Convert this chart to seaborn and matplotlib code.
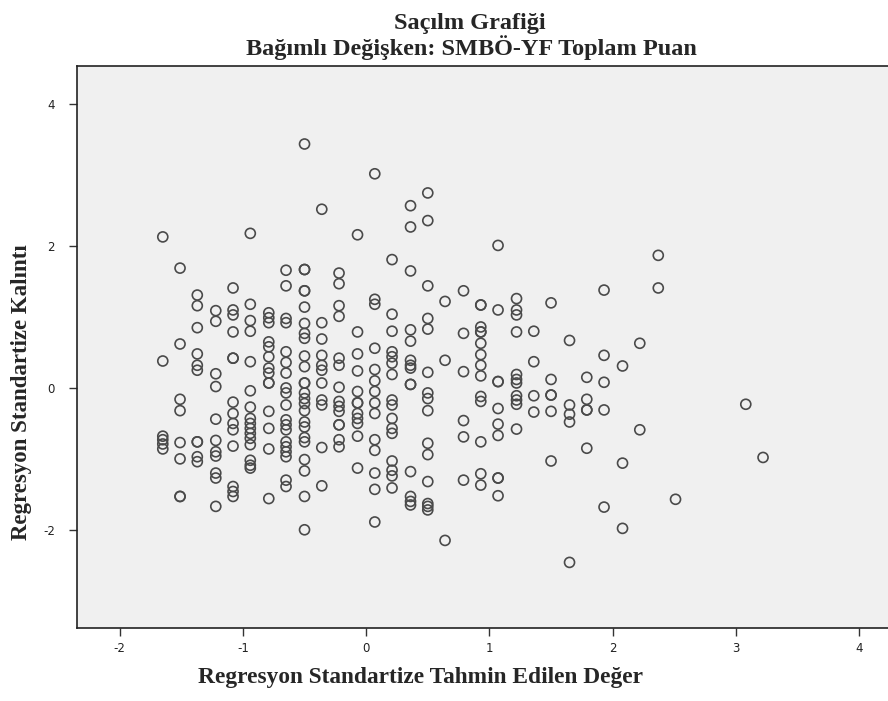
import numpy as np
import pandas as pd
import matplotlib
matplotlib.use('Agg')
import matplotlib.pyplot as plt
import seaborn as sns

# Standardized predicted values (x) and standardized residuals (y)
pred = [
    -1.65, -1.65, -1.65, -1.65, -1.65, -1.65,
    -1.51, -1.51, -1.51, -1.51, -1.51, -1.51, -1.51, -1.51,
    -1.37, -1.37, -1.37, -1.37, -1.37, -1.37, -1.37, -1.37, -1.37, -1.37,
    -1.22, -1.22, -1.22, -1.22, -1.22, -1.22, -1.22, -1.22, -1.22, -1.22, -1.22,
    -1.08, -1.08, -1.08, -1.08, -1.08, -1.08, -1.08, -1.08, -1.08, -1.08, -1.08, -1.08, -1.08, -1.08,
    -0.94, -0.94, -0.94, -0.94, -0.94, -0.94, -0.94, -0.94, -0.94, -0.94, -0.94, -0.94, -0.94, -0.94, -0.94, -0.94,
    -0.79, -0.79, -0.79, -0.79, -0.79, -0.79, -0.79, -0.79, -0.79, -0.79, -0.79, -0.79, -0.79, -0.79,
    -0.65, -0.65, -0.65, -0.65, -0.65, -0.65, -0.65, -0.65, -0.65, -0.65, -0.65, -0.65, -0.65, -0.65,
    -0.65, -0.65, -0.65, -0.65, -0.65,
    -0.50, -0.50, -0.50, -0.50, -0.50, -0.50, -0.50, -0.50, -0.50, -0.50, -0.50, -0.50, -0.50, -0.50,
    -0.50, -0.50, -0.50, -0.50, -0.50, -0.50, -0.50, -0.50, -0.50, -0.50, -0.50,
    -0.36, -0.36, -0.36, -0.36, -0.36, -0.36, -0.36, -0.36, -0.36, -0.36, -0.36,
    -0.22, -0.22, -0.22, -0.22, -0.22, -0.22, -0.22, -0.22, -0.22, -0.22, -0.22, -0.22, -0.22, -0.22,
    -0.07, -0.07, -0.07, -0.07, -0.07, -0.07, -0.07, -0.07, -0.07, -0.07, -0.07, -0.07,
    0.07, 0.07, 0.07, 0.07, 0.07, 0.07, 0.07, 0.07, 0.07, 0.07, 0.07, 0.07, 0.07, 0.07,
    0.21, 0.21, 0.21, 0.21, 0.21, 0.21, 0.21, 0.21, 0.21, 0.21, 0.21, 0.21, 0.21, 0.21, 0.21, 0.21,
    0.36, 0.36, 0.36, 0.36, 0.36, 0.36, 0.36, 0.36, 0.36, 0.36, 0.36, 0.36, 0.36, 0.36,
    0.50, 0.50, 0.50, 0.50, 0.50, 0.50, 0.50, 0.50, 0.50, 0.50, 0.50, 0.50, 0.50, 0.50, 0.50,
    0.64, 0.64, 0.64,
    0.79, 0.79, 0.79, 0.79, 0.79, 0.79,
    0.93, 0.93, 0.93, 0.93, 0.93, 0.93, 0.93, 0.93, 0.93, 0.93, 0.93, 0.93, 0.93, 0.93,
    1.07, 1.07, 1.07, 1.07, 1.07, 1.07, 1.07, 1.07, 1.07, 1.07,
    1.22, 1.22, 1.22, 1.22, 1.22, 1.22, 1.22, 1.22, 1.22, 1.22, 1.22,
    1.36, 1.36, 1.36, 1.36,
    1.50, 1.50, 1.50, 1.50, 1.50, 1.50,
    1.65, 1.65, 1.65, 1.65, 1.65,
    1.79, 1.79, 1.79, 1.79, 1.79,
    1.93, 1.93, 1.93, 1.93, 1.93,
    2.08, 2.08, 2.08,
    2.22, 2.22,
    2.37, 2.37,
    2.51,
    3.08,
    3.22,
]

resid = [
    2.13, 0.38, -0.68, -0.73, -0.79, -0.86,
    1.69, 0.62, -0.16, -0.32, -0.77, -1.00, -1.53, -1.53,
    1.31, 1.16, 0.85, 0.48, 0.32, 0.25, -0.76, -0.76, -0.97, -1.04,
    1.09, 0.94, 0.20, 0.02, -0.44, -0.74, -0.90, -0.96, -1.20, -1.27, -1.67,
    1.41, 1.10, 1.03, 0.79, 0.42, 0.42, -0.20, -0.36, -0.50, -0.59, -0.82, -1.39, -1.46, -1.53,
    2.18, 1.18, 0.95, 0.80, 0.37, -0.04, -0.27, -0.43, -0.50, -0.57, -0.64, -0.71, -0.80, -1.02, -1.09, -1.13,
    1.06, 0.99, 0.92, 0.65, 0.58, 0.44, 0.28, 0.21, 0.07, 0.07, -0.33, -0.57, -0.86, -1.56,
    1.66, 1.44, 0.98, 0.92, 0.51, 0.36, 0.21, 0.00, -0.07, -0.24, -0.45, -0.52, -0.59, -0.76,
    -0.83, -0.90, -0.97, -1.30, -1.39,
    3.44, 1.67, 1.67, 1.37, 1.37, 1.14, 0.91, 0.77, 0.70, 0.45, 0.30, 0.07, 0.07, -0.07,
    -0.15, -0.22, -0.32, -0.48, -0.55, -0.70, -0.76, -1.01, -1.17, -1.53, -2.00,
    2.52, 0.92, 0.69, 0.46, 0.32, 0.25, 0.07, -0.17, -0.24, -0.84, -1.38,
    1.62, 1.47, 1.16, 1.01, 0.42, 0.32, 0.01, -0.19, -0.26, -0.33, -0.52, -0.52, -0.73, -0.83,
    2.16, 0.79, 0.48, 0.24, -0.05, -0.21, -0.21, -0.36, -0.43, -0.50, -0.68, -1.13,
    3.02, 1.25, 1.18, 0.56, 0.26, 0.10, -0.05, -0.21, -0.36, -0.73, -0.88, -1.20, -1.43, -1.89,
    1.81, 1.04, 0.80, 0.51, 0.44, 0.35, 0.19, -0.17, -0.24, -0.43, -0.57, -0.64, -1.03, -1.16, -1.24, -1.41,
    2.57, 2.27, 1.65, 0.82, 0.66, 0.39, 0.32, 0.28, 0.05, 0.05, -1.18, -1.53, -1.60, -1.65,
    2.75, 2.36, 1.44, 0.98, 0.83, 0.22, -0.07, -0.15, -0.32, -0.78, -0.94, -1.32, -1.63, -1.67, -1.72,
    1.22, 0.39, -2.15,
    1.37, 0.77, 0.23, -0.46, -0.69, -1.30,
    1.17, 1.17, 0.86, 0.79, 0.79, 0.63, 0.47, 0.32, 0.17, -0.12, -0.19, -0.76, -1.21, -1.37,
    2.01, 1.10, 0.09, 0.09, -0.29, -0.51, -0.67, -1.27, -1.27, -1.52,
    1.26, 1.10, 1.03, 0.79, 0.19, 0.12, 0.07, -0.11, -0.17, -0.23, -0.58,
    0.80, 0.37, -0.11, -0.34,
    1.20, 0.12, -0.10, -0.10, -0.33, -1.03,
    0.67, -0.24, -0.37, -0.48, -2.46,
    0.15, -0.16, -0.31, -0.31, -0.85,
    1.38, 0.46, 0.08, -0.31, -1.68,
    0.31, -1.06, -1.98,
    0.63, -0.59,
    1.87, 1.41,
    -1.57,
    -0.23,
    -0.98,
]

x_ticks = [-2, -1, 0, 1, 2, 3, 4]
y_ticks = [-2, 0, 2, 4]

df = pd.DataFrame({'pred': pred, 'resid': resid})

sns.set_style('white')
plt.rcParams['axes.unicode_minus'] = False
serif = ['Liberation Serif', 'DejaVu Serif']

fig = plt.figure(figsize=(8.88, 7.01), dpi=100)
ax = fig.add_axes([77 / 888, 73 / 701, 813 / 888, 562 / 701])
ax.set_facecolor('#f0f0f0')

sns.scatterplot(data=df, x='pred', y='resid', ax=ax, marker='o', s=52,
                facecolor='none', edgecolor='#4a4a4a', linewidth=1.2)

ax.set_xlim(-2.346, 4.25)
ax.set_ylim(-3.385, 4.54)
ax.set_xticks(x_ticks)
ax.set_yticks(y_ticks)
ax.tick_params(direction='out', length=6, width=1, color='#333333',
               labelsize=8.5, labelcolor='#222222', bottom=True, left=True)
ax.tick_params(axis='x', pad=4)
ax.tick_params(axis='y', pad=10)
ax.set_xlabel('')
ax.set_ylabel('')

for sp in ax.spines.values():
    sp.set_color('#222222')
    sp.set_linewidth(1.2)

fig.text(420 / 888, 1 - 678 / 701, 'Regresyon Standartize Tahmin Edilen Değer',
         family=serif, fontsize=16.8, fontweight='bold', ha='center', va='center')
fig.text(22 / 888, 1 - 392 / 701, 'Regresyon Standartize Kalıntı', family=serif,
         fontsize=16.5, fontweight='bold', ha='center', va='center', rotation=90)

fig.text(470 / 888, 1 - 23 / 701, 'Saçılm Grafiği', family=serif, fontsize=17.5,
         fontweight='bold', ha='center', va='center')
fig.text(471 / 888, 1 - 48 / 701, 'Bağımlı Değişken: SMBÖ-YF Toplam Puan', family=serif,
         fontsize=17.5, fontweight='bold', ha='center', va='center')

fig.savefig('out.png', dpi=100, facecolor='white')
